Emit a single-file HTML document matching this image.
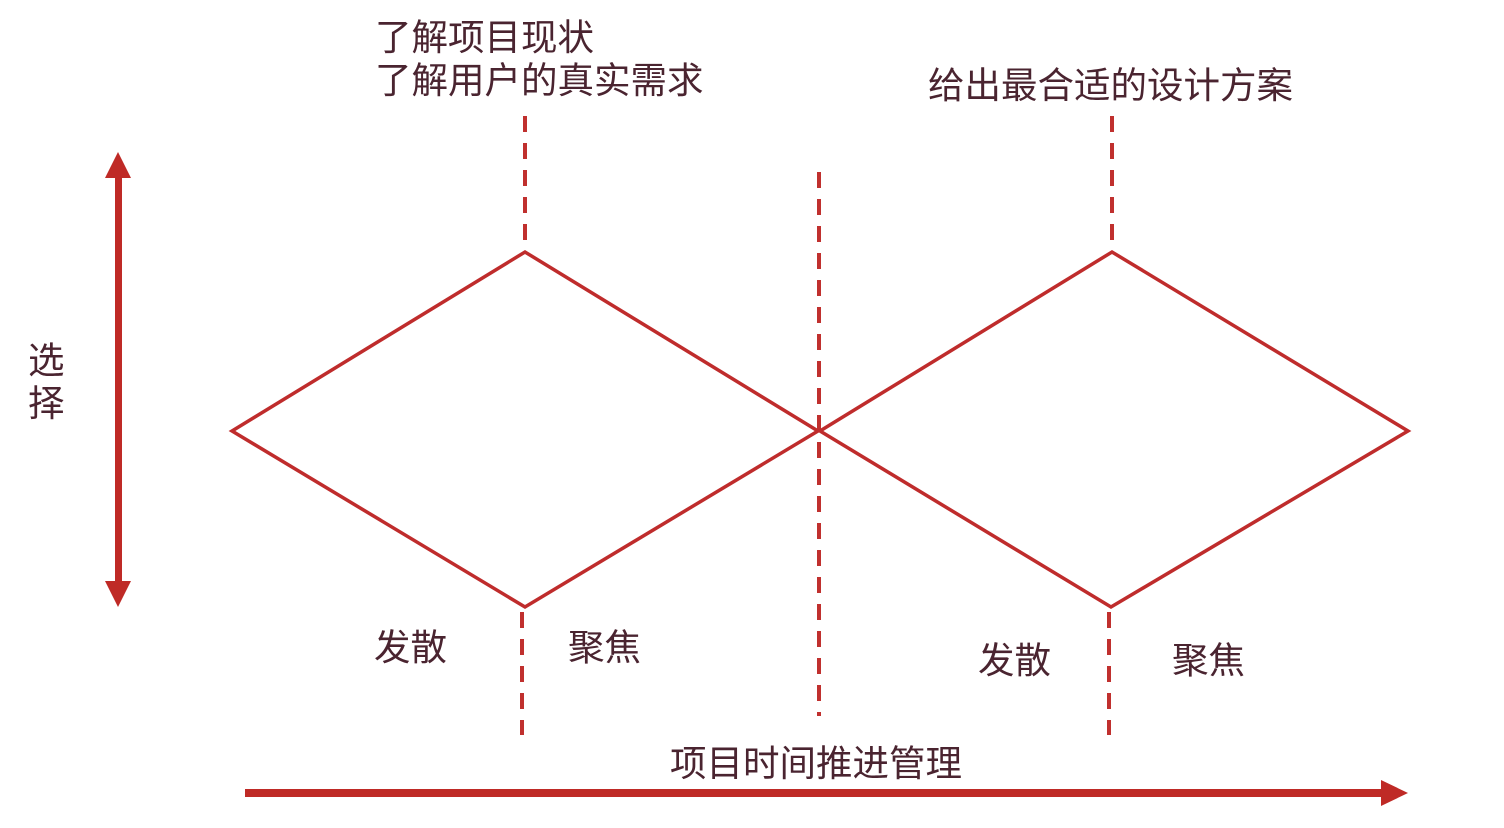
<!DOCTYPE html>
<html><head><meta charset="utf-8"><style>
html,body{margin:0;padding:0;background:#fff;}
svg{display:block;}
text{font-family:"Liberation Sans","Noto Sans CJK SC",sans-serif;fill:#4a2430;font-size:36.5px;}
</style></head><body>
<svg width="1504" height="828" viewBox="0 0 1504 828" xmlns="http://www.w3.org/2000/svg">
<g stroke="#c0302e" stroke-width="4" stroke-dasharray="16,11" fill="none">
<line x1="525" y1="116" x2="525" y2="246"/>
<line x1="1112" y1="116" x2="1112" y2="246"/>
<line x1="819" y1="172" x2="819" y2="716"/>
<line x1="522" y1="612" x2="522" y2="735"/>
<line x1="1109" y1="612" x2="1109" y2="735"/>
</g>
<g stroke="#bf2c2c" stroke-width="3.5" fill="none" stroke-linejoin="miter">
<polygon points="232,431 525,252 818,431 525,607"/>
<polygon points="820,431 1112,252 1408,431 1111,607"/>
</g>
<g fill="#bf2a26">
<rect x="115" y="175" width="7" height="410"/>
<polygon points="118,152 105,178 131,178"/>
<polygon points="118,607 105,581 131,581"/>
<rect x="245" y="789" width="1140" height="8"/>
<polygon points="1408,793 1381,780 1381,806"/>
</g>
<text x="375" y="50">了解项目现状</text>
<text x="375" y="93">了解用户的真实需求</text>
<text x="928" y="98">给出最合适的设计方案</text>
<text x="28" y="373">选</text>
<text x="28" y="416">择</text>
<text x="374" y="660">发散</text>
<text x="568" y="660">聚焦</text>
<text x="978" y="673">发散</text>
<text x="1172" y="673">聚焦</text>
<text x="670" y="776">项目时间推进管理</text>
</svg>
</body></html>
